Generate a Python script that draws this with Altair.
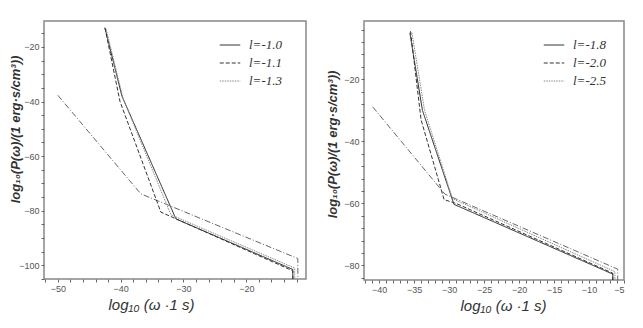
import altair as alt
import pandas as pd

# ---------------- data ----------------
# left panel
L_labels = ["l=-1.0", "l=-1.1", "l=-1.3"]
L_x_a = [-42.5, -39.8, -31.2, -12.6, -12.6]
L_y_a = [-13.0, -38.0, -83.0, -101.5, -106.0]
L_x_b = [-42.5, -40.1, -33.6, -12.6, -12.6]
L_y_b = [-13.0, -40.0, -80.5, -102.0, -106.0]
L_x_c = [-42.3, -39.6, -32.0, -12.3, -12.3]
L_y_c = [-13.5, -39.0, -81.5, -101.0, -106.0]
L_x_dd = [-50.0, -36.8, -11.8, -11.8]
L_y_dd = [-37.7, -73.8, -97.5, -106.0]
L_xdom = [-52.2, -10.5]
L_ydom = [-105.0, -10.5]
L_xticks = [-52, -50, -48, -46, -44, -42, -40, -38, -36, -34, -32, -30, -28, -26, -24, -22, -20, -18, -16, -14, -12]
L_yticks = [-105, -100, -95, -90, -85, -80, -75, -70, -65, -60, -55, -50, -45, -40, -35, -30, -25, -20, -15]

# right panel
R_labels = ["l=-1.8", "l=-2.0", "l=-2.5"]
R_x_a = [-35.6, -33.8, -29.3, -6.6, -6.6]
R_y_a = [-5.0, -30.0, -60.3, -82.8, -86.0]
R_x_b = [-35.5, -34.0, -30.7, -29.0, -6.6, -6.6]
R_y_b = [-4.5, -33.0, -58.8, -60.0, -82.5, -86.0]
R_x_c = [-35.3, -33.5, -29.5, -6.3, -6.3]
R_y_c = [-5.0, -30.0, -58.5, -82.0, -86.0]
R_x_dd = [-40.9, -30.6, -5.9, -5.9]
R_y_dd = [-28.9, -57.0, -81.2, -86.0]
R_xdom = [-42.15, -5.0]
R_ydom = [-84.7, -1.2]
R_xticks = list(range(-42, -4, 1))
R_yticks = [-84, -80, -76, -72, -68, -64, -60, -56, -52, -48, -44, -40, -36, -32, -28, -24, -20, -16, -12, -8, -4]

X_TITLE = "log₁₀ (ω  ·1 s)"
Y_TITLE = "log₁₀(P(ω)/(1 erg·s/cm³))"


def frame(labels, xs, ys):
    rows = []
    for lab, xx, yy in zip(labels, xs, ys):
        for i, (a, b) in enumerate(zip(xx, yy)):
            rows.append({"x": a, "y": b, "series": lab, "order": i})
    return pd.DataFrame(rows)


def panel(labels, xs, ys, xdd, ydd, xdom, ydom, xticks, yticks, xstep_lbl, w, h,
          xtitle_x, ytitle_x, ytitle_y, legx, legy):
    df = frame(labels, xs, ys)
    dd = pd.DataFrame({"x": xdd, "y": ydd, "order": list(range(len(xdd)))})
    xax = alt.Axis(values=xticks, title=X_TITLE,
                   labelExpr=f"datum.value % {xstep_lbl} == 0 ? datum.label : ''",
                   titleX=xtitle_x)
    yax = alt.Axis(values=yticks, title=Y_TITLE,
                   labelExpr="datum.value % 20 == 0 ? datum.label : ''",
                   titleX=ytitle_x, titleY=ytitle_y)
    xenc = alt.X("x:Q", scale=alt.Scale(domain=xdom, nice=False, zero=False), axis=xax)
    yenc = alt.Y("y:Q", scale=alt.Scale(domain=ydom, nice=False, zero=False), axis=yax)
    leg = alt.Legend(title=None, orient="none", legendX=legx, legendY=legy,
                     symbolType="stroke", symbolSize=420, symbolStrokeWidth=1,
                     labelFont="Liberation Serif", labelFontStyle="italic",
                     labelFontSize=13, labelColor="#333", rowPadding=0,
                     padding=0, labelOffset=8)
    lines = alt.Chart(df).mark_line(strokeWidth=1, clip=True).encode(
        x=xenc, y=yenc,
        strokeDash=alt.StrokeDash("series:N", scale=alt.Scale(domain=labels, range=[[1, 0], [4, 2], [1.5, 1]]), legend=leg),
        color=alt.Color("series:N", scale=alt.Scale(domain=labels, range=["#222222", "#333333", "#888888"]), legend=leg),
        detail="series:N",
        order="order:Q",
    )
    dash = alt.Chart(dd).mark_line(strokeWidth=1, color="#666666", strokeDash=[6, 2, 1, 2], clip=True).encode(
        x=xenc, y=yenc, order="order:Q")
    return alt.layer(dash, lines).properties(width=w, height=h)


left = panel(L_labels, [L_x_a, L_x_b, L_x_c], [L_y_a, L_y_b, L_y_c], L_x_dd, L_y_dd,
             L_xdom, L_ydom, L_xticks, L_yticks, 10, 262, 258, 107, -22, 108, 175, 13)
right = panel(R_labels, [R_x_a, R_x_b, R_x_c], [R_y_a, R_y_b, R_y_c], R_x_dd, R_y_dd,
              R_xdom, R_ydom, R_xticks, R_yticks, 5, 260, 259, 139, -25, 123, 179, 13)

chart = alt.hconcat(left, right, spacing=18).resolve_scale(
    x="independent", y="independent", strokeDash="independent", color="independent"
).resolve_legend(strokeDash="independent", color="independent").configure(
    padding={"left": 0, "top": 12, "right": 0, "bottom": 0},
    background="white",
).configure_view(
    stroke="#888888", strokeWidth=1.5
).configure_axis(
    grid=False, domain=False, tickColor="#666666", tickSize=3, labelColor="#555555",
    labelFontSize=9, labelFont="Liberation Sans", labelPadding=2,
    titleFont="Liberation Sans", titleFontStyle="italic", titleColor="#333333",
).configure_axisX(
    titleFontSize=15, titleFontWeight="normal", titlePadding=4,
).configure_axisY(
    titleFontSize=13, titleFontWeight="bold", titlePadding=2,
)

chart.save("out.html", embed_options={"renderer": "svg", "actions": False})
